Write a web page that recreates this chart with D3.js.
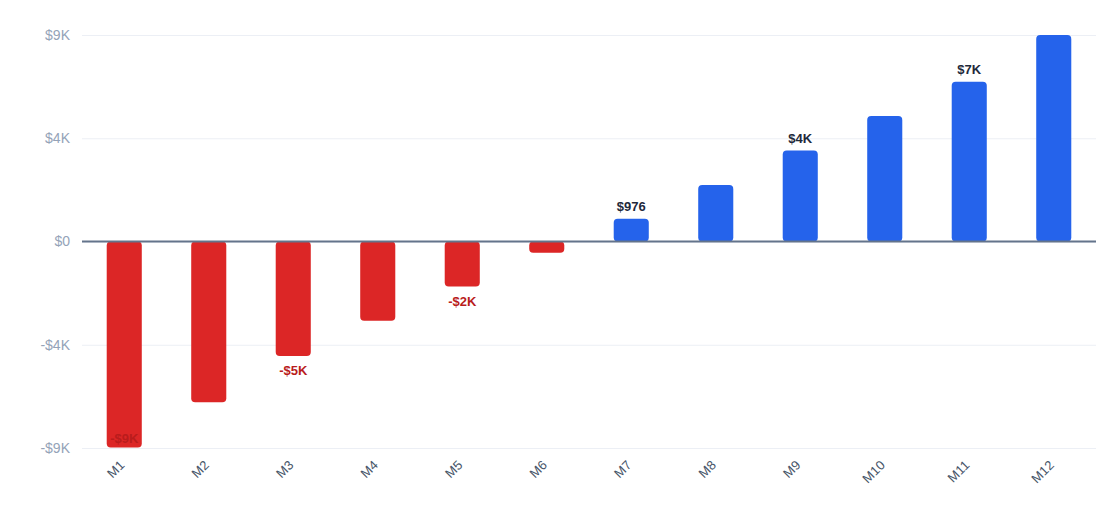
<!DOCTYPE html>
<html>
<head>
<meta charset="utf-8">
<script src="https://cdn.jsdelivr.net/npm/d3@7"></script>
<style>
  body { margin: 0; background: #fff; }
  svg { display: block; font-family: "Liberation Sans", Arial, Helvetica, sans-serif; }
</style>
</head>
<body>
<svg id="chart" width="1120" height="531"></svg>
<script>
let months = ["M1", "M2", "M3", "M4", "M5", "M6", "M7", "M8", "M9", "M10", "M11", "M12"]
let values = [-8880, -6930, -4930, -3420, -1940, -480, 976, 2440, 3920, 5410, 6890, 8900]
let labelled = ["M1", "M3", "M5", "M7", "M9", "M11"]

let plotLeft = 82, plotRight = 1096, plotTop = 35, plotBottom = 448

let maxAbs = d3.max(values, v => Math.abs(v))
let tickValues = [maxAbs, maxAbs / 2, 0, -maxAbs / 2, -maxAbs]

function money(v) {
  let sign = v < 0 ? "-" : ""
  let a = Math.abs(v)
  if (a < 1000) return sign + "$" + Math.round(a)
  return sign + "$" + Math.round(a / 1000) + "K"
}

let svg = d3.select("#chart")

let x = d3.scaleBand()
  .domain(months)
  .range([plotLeft, plotRight])
  .paddingInner(0.585)
  .paddingOuter(0.2925)

let y = d3.scaleLinear()
  .domain([-maxAbs, maxAbs])
  .range([plotBottom, plotTop])

// grid + y labels
let yAxis = d3.axisLeft(y)
  .tickValues(tickValues)
  .tickSize(-(plotRight - plotLeft))
  .tickPadding(12)
  .tickFormat(money)

let gy = svg.append("g")
  .attr("transform", `translate(${plotLeft},0)`)
  .call(yAxis)
gy.select(".domain").remove()
gy.selectAll(".tick line").attr("stroke", "#eceff5").attr("stroke-width", 1)
gy.selectAll(".tick text")
  .attr("fill", "#94a3b8")
  .attr("font-size", 14)
  .attr("font-family", "Liberation Sans, Arial, sans-serif")

// bars
let data = months.map((m, i) => ({ m: m, v: values[i] }))

svg.selectAll("rect.bar")
  .data(data)
  .enter()
  .append("rect")
  .attr("class", "bar")
  .attr("x", d => x(d.m))
  .attr("width", x.bandwidth())
  .attr("y", d => d.v >= 0 ? y(d.v) : y(0))
  .attr("height", d => Math.abs(y(d.v) - y(0)))
  .attr("rx", 4)
  .attr("fill", d => d.v >= 0 ? "#2563eb" : "#dc2626")

// zero line
svg.append("line")
  .attr("x1", plotLeft)
  .attr("x2", plotRight)
  .attr("y1", y(0))
  .attr("y2", y(0))
  .attr("stroke", "#64748b")
  .attr("stroke-width", 2)

// value labels
svg.selectAll("text.val")
  .data(data.filter(d => labelled.includes(d.m)))
  .enter()
  .append("text")
  .attr("class", "val")
  .attr("x", d => x(d.m) + x.bandwidth() / 2)
  .attr("y", d => d.v >= 0 ? y(d.v) - 8 : Math.min(y(d.v) + 19, plotBottom - 5))
  .attr("text-anchor", "middle")
  .attr("font-size", 13)
  .attr("font-weight", "bold")
  .attr("fill", d => d.v >= 0 ? "#1e293b" : "#b91c1c")
  .text(d => money(d.v))

// x labels
let gx = svg.append("g")
  .attr("transform", `translate(0,${plotBottom})`)
  .call(d3.axisBottom(x).tickSize(0).tickPadding(0))
gx.select(".domain").remove()
gx.selectAll(".tick text")
  .attr("fill", "#475569")
  .attr("font-size", 13)
  .attr("font-family", "Liberation Sans, Arial, sans-serif")
  .attr("text-anchor", "end")
  .attr("dy", 0)
  .attr("transform", "translate(1,18) rotate(-45)")
</script>
</body>
</html>
